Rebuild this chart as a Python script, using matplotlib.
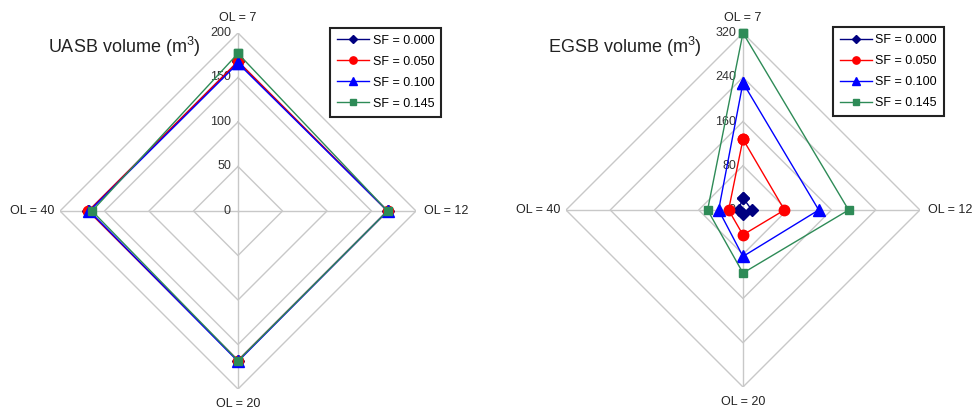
import numpy as np
import matplotlib
matplotlib.use("Agg")
import matplotlib.pyplot as plt
from matplotlib.transforms import offset_copy

plt.rcParams.update({
    "font.family": ["Liberation Sans", "DejaVu Sans"],
    "mathtext.fontset": "custom",
    "mathtext.rm": "Liberation Sans",
    "mathtext.default": "regular",
})

# data (order: OL = 7, 12, 20, 40 going clockwise from top)
categories = ["OL = 7", "OL = 12", "OL = 20", "OL = 40"]
series_names = ["SF = 0.000", "SF = 0.050", "SF = 0.100", "SF = 0.145"]

uasb_sf000 = [168, 168, 168, 168]
uasb_sf050 = [168, 168, 168, 168]
uasb_sf100 = [166, 168, 169, 167]
uasb_sf145 = [177, 168, 168, 164]
uasb_ticks = [0, 50, 100, 150, 200]

egsb_sf000 = [22, 16, 7, 8]
egsb_sf050 = [128, 75, 45, 26]
egsb_sf100 = [230, 137, 84, 44]
egsb_sf145 = [320, 191, 114, 64]
egsb_ticks = [0, 80, 160, 240, 320]

COLORS = ["#000080", "#ff0000", "#0000ff", "#2e8b57"]
MARKERS = ["D", "o", "^", "s"]
MSIZES = [6, 7.5, 8, 6]
GRID = "#c8c8c8"


def radar(fig, rect, series, ticks, title, title_xy, legend_anchor):
    ax = fig.add_axes(rect, projection="polar")
    ax.set_theta_zero_location("N")
    ax.set_theta_direction(-1)
    theta = np.linspace(0, 2 * np.pi, len(categories), endpoint=False)
    closed = np.append(theta, theta[0])
    rmax = ticks[-1]
    ax.set_ylim(0, rmax)
    ax.grid(False)
    ax.spines["polar"].set_visible(False)
    ax.set_xticks([])
    ax.set_yticks([])
    ax.patch.set_visible(False)

    # polygon grid + spokes
    for t in ticks[1:]:
        ax.plot(closed, [t] * len(closed), color=GRID, lw=1.0, zorder=1)
    for th in theta:
        ax.plot([th, th], [0, rmax], color=GRID, lw=1.0, zorder=1)

    # radial tick labels along the top spoke
    tr = offset_copy(ax.transData, fig=fig, x=-7, y=0, units="dots")
    for t in ticks:
        ax.text(0, t, str(t), transform=tr, ha="right", va="center",
                fontsize=9, color="#333333", zorder=2)

    # category labels outside the vertices
    pads = {0: (0, 9), 1: (8, 0), 2: (0, -9), 3: (-6, 0)}
    has = {0: "center", 1: "left", 2: "center", 3: "right"}
    vas = {0: "bottom", 1: "center", 2: "top", 3: "center"}
    for i, (th, lab) in enumerate(zip(theta, categories)):
        dx, dy = pads[i]
        trl = offset_copy(ax.transData, fig=fig, x=dx, y=dy, units="dots")
        ax.text(th, rmax, lab, transform=trl, ha=has[i], va=vas[i],
                fontsize=9, color="#222222")

    for vals, name, c, m, ms in zip(series, series_names, COLORS, MARKERS, MSIZES):
        ax.plot(closed, list(vals) + [vals[0]], color=c, lw=1.0, marker=m,
                ms=ms, label=name, zorder=3, clip_on=False)

    leg = ax.legend(loc="upper right", bbox_to_anchor=legend_anchor,
                    bbox_transform=fig.transFigure, fontsize=9,
                    markerscale=0.7, handlelength=2.6, handletextpad=0.25,
                    borderpad=0.55, labelspacing=0.72, borderaxespad=0,
                    fancybox=False, framealpha=1)
    leg.get_frame().set_edgecolor("#222222")
    leg.get_frame().set_linewidth(1.5)

    fig.text(title_xy[0], title_xy[1], title, fontsize=13, ha="left",
             va="center", color="#222222")
    return ax


fig = plt.figure(figsize=(9.74, 4.16), dpi=100)
radar(fig, [0.0616, 0.0649, 0.3655, 0.8558],
      [uasb_sf000, uasb_sf050, uasb_sf100, uasb_sf145], uasb_ticks,
      "UASB volume (m$^{3}$)", (48 / 974, 1 - 47 / 416), (0.4528, 0.9327))
radar(fig, [0.5811, 0.0697, 0.3634, 0.851],
      [egsb_sf000, egsb_sf050, egsb_sf100, egsb_sf145], egsb_ticks,
      "EGSB volume (m$^{3}$)", (548 / 974, 1 - 47 / 416), (0.969, 0.935))

fig.savefig("out.png", dpi=100)
